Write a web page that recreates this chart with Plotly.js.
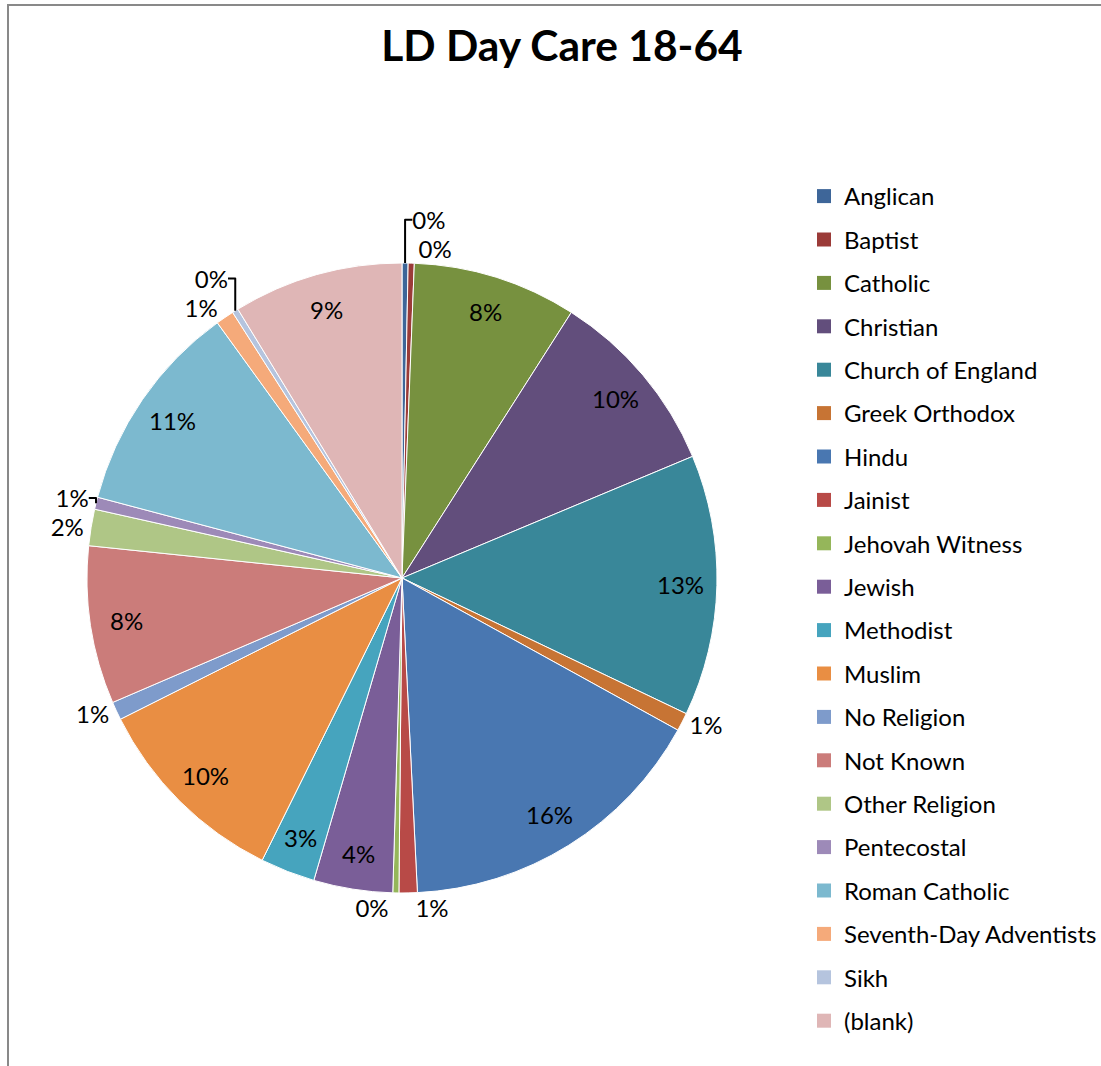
<!DOCTYPE html>
<html>
<head>
<meta charset="utf-8">
<script src="https://cdn.plot.ly/plotly-3.0.1.min.js"></script>
<style>
html, body { margin: 0; padding: 0; background: #ffffff; }
#chart { position: absolute; left: 0; top: 0; width: 1101px; height: 1066px; }
#frame { position: absolute; left: 7px; top: 4px; width: 1110px; height: 1080px;
         border-left: 2px solid #898989; border-top: 2px solid #898989; pointer-events: none; }
</style>
</head>
<body>
<div id="chart"></div>
<div id="frame"></div>
<script>
// ---- data ----
const religions = [
  "Anglican", "Baptist", "Catholic", "Christian", "Church of England",
  "Greek Orthodox", "Hindu", "Jainist", "Jehovah Witness", "Jewish",
  "Methodist", "Muslim", "No Religion", "Not Known", "Other Religion",
  "Pentecostal", "Roman Catholic", "Seventh-Day Adventists", "Sikh", "(blank)"
];
const counts = [1, 1, 27, 31, 43, 3, 52, 3, 1, 13, 9, 33, 3, 26, 6, 2, 35, 3, 1, 28];
const sliceColors = [
  "#3E6699", "#9B3B38", "#77913F", "#624E7C", "#398799",
  "#C77434", "#4977B1", "#B84A47", "#95B65A", "#7A5E98",
  "#46A4BE", "#E98E43", "#7E9BCB", "#CB7C7A", "#AFC686",
  "#9D8AB8", "#7CB9CF", "#F5AA7A", "#B5C4DE", "#DFB6B6"
];
const chartTitle = "LD Day Care 18-64";

// ---- geometry / style ----
const W = 1101, H = 1066;
const FONT = "Lato, 'Open Sans', sans-serif";
const LABEL_SIZE = 24;
const pieDomain = { x: [87 / W, 717 / W], y: [173 / H, 803 / H] };

const total = counts.reduce((a, b) => a + b, 0);
const isSmall = counts.map(c => c / total < 0.025);
const positions = isSmall.map(s => (s ? "outside" : "none"));

const pieTrace = {
  type: "pie",
  labels: religions,
  values: counts,
  sort: false,
  direction: "clockwise",
  rotation: 0,
  marker: { colors: sliceColors, line: { color: "#ffffff", width: 1 } },
  texttemplate: "%{percent:.0%}",
  textposition: positions,
  textfont: { family: FONT, size: LABEL_SIZE, color: "#000000" },
  outsidetextfont: { family: FONT, size: LABEL_SIZE, color: "#000000" },
  domain: pieDomain,
  automargin: false,
  showlegend: false,
  hoverinfo: "label+value+percent"
};

// labels of the large slices, placed near the rim like the reference
const cxPx = (pieDomain.x[0] + pieDomain.x[1]) / 2 * W;
const cyPx = (1 - (pieDomain.y[0] + pieDomain.y[1]) / 2) * H;
const rPx = Math.min((pieDomain.x[1] - pieDomain.x[0]) * W, (pieDomain.y[1] - pieDomain.y[0]) * H) / 2;
const annotations = [];
let cum = 0;
counts.forEach((c, i) => {
  const mid = (cum + c / 2) / total * 2 * Math.PI;
  cum += c;
  if (isSmall[i]) return;
  const px = cxPx + 0.885 * rPx * Math.sin(mid);
  const py = cyPx - 0.885 * rPx * Math.cos(mid);
  annotations.push({
    x: px / W, y: 1 - py / H, xref: "paper", yref: "paper",
    xanchor: "center", yanchor: "middle", showarrow: false,
    text: Math.round(c / total * 100) + "%",
    font: { family: FONT, size: LABEL_SIZE, color: "#000000" }
  });
});

// legend entries (one per category, so the spacing can match the reference)
const legendTraces = religions.map((name, i) => ({
  type: "scatter",
  x: [null], y: [null],
  mode: "markers",
  name: name,
  legendgroup: name,
  marker: { symbol: "square", size: 14, color: sliceColors[i] },
  showlegend: true,
  hoverinfo: "skip"
}));

const layout = {
  width: W,
  height: H,
  margin: { l: 0, r: 0, t: 0, b: 0, autoexpand: false },
  paper_bgcolor: "#ffffff",
  plot_bgcolor: "rgba(0,0,0,0)",
  title: {
    text: "<b>" + chartTitle + "</b>",
    font: { family: FONT, size: 42.5, color: "#000000" },
    x: 562 / W, xanchor: "center",
    y: 1 - 46 / H, yanchor: "middle",
    xref: "paper", yref: "container"
  },
  xaxis: { visible: false, domain: [0.9, 0.95] },
  yaxis: { visible: false, domain: [0.9, 0.95] },
  annotations: annotations,
  showlegend: true,
  legend: {
    x: 804 / W, xanchor: "left",
    y: 1 - 174 / H, yanchor: "top",
    font: { family: FONT, size: 24, color: "#000000" },
    tracegroupgap: 9.2,
    bgcolor: "rgba(0,0,0,0)",
    itemclick: false, itemdoubleclick: false
  }
};

Plotly.newPlot("chart", [pieTrace].concat(legendTraces), layout, { displayModeBar: false, staticPlot: true });
</script>
</body>
</html>
